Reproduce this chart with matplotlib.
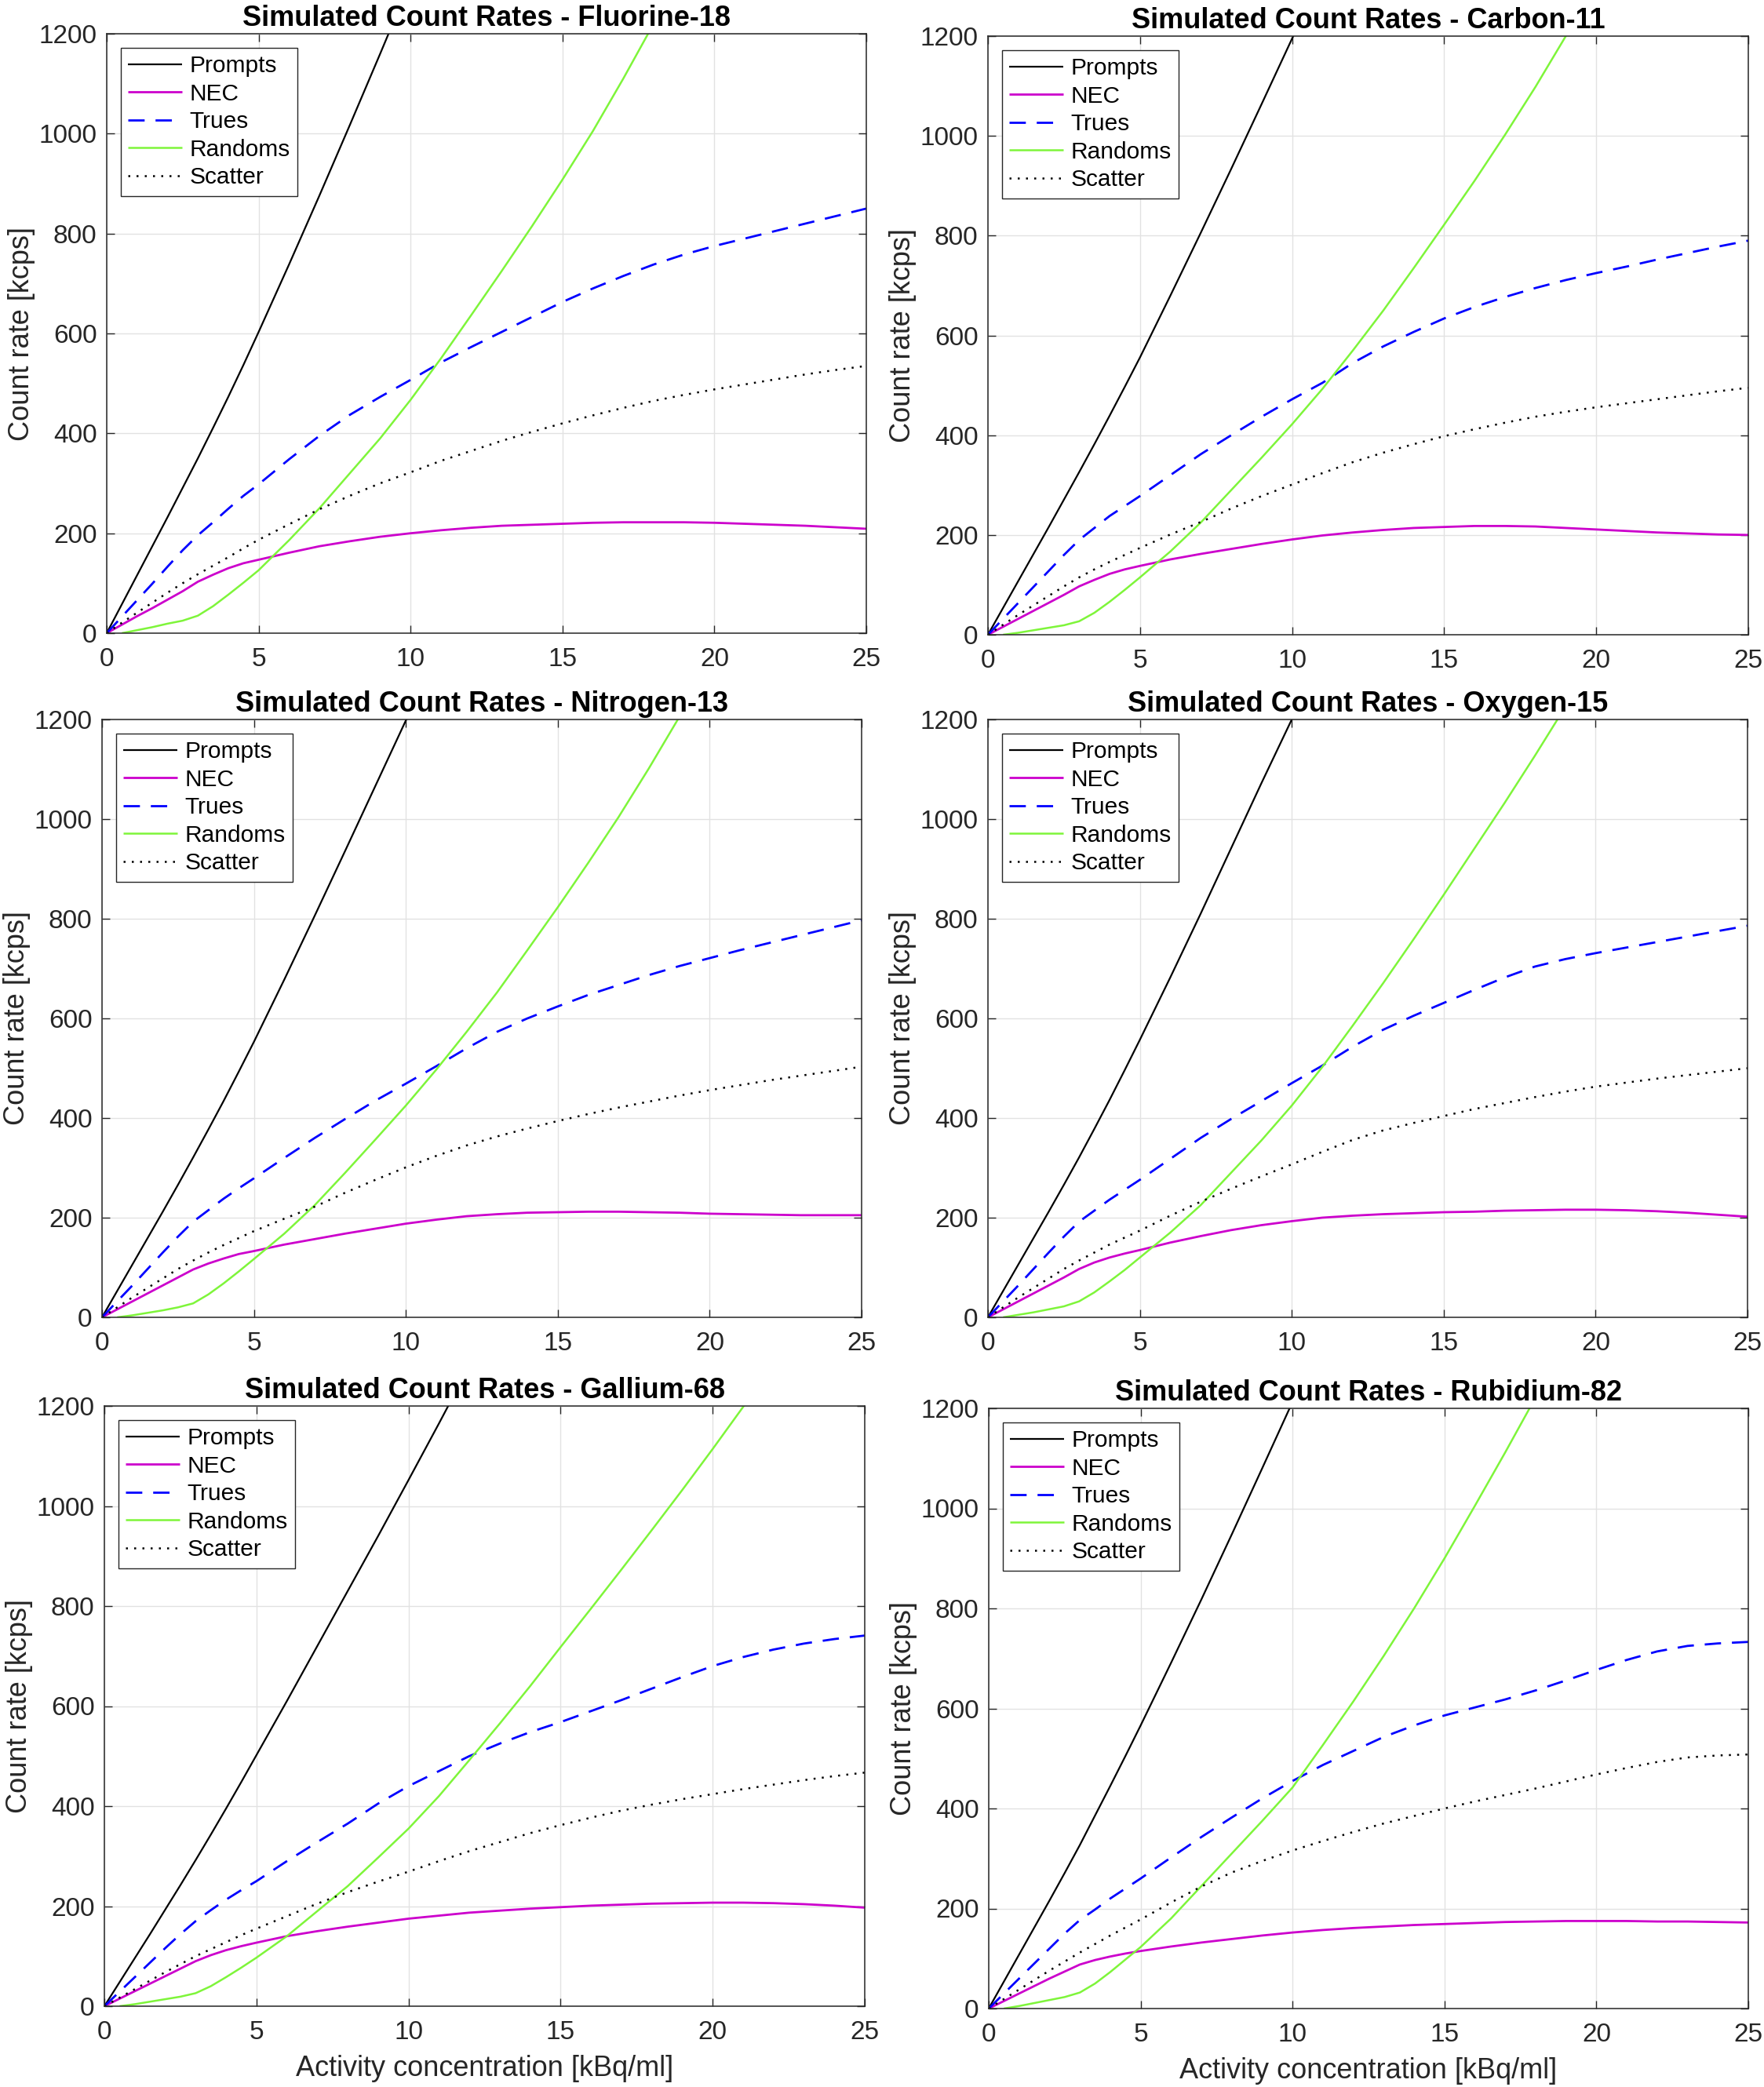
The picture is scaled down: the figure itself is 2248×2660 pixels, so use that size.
import numpy as np
import matplotlib
matplotlib.use("Agg")
import matplotlib.pyplot as plt

plt.rcParams['font.family'] = ['Liberation Sans', 'DejaVu Sans']

nan = np.nan

# Activity concentration [kBq/ml]
x = [0, 0.5, 1, 1.5, 2, 2.5, 3, 3.5, 4, 4.5, 5, 6, 7, 8, 9, 10, 11, 12, 13,
     14, 15, 16, 17, 18, 19, 20, 21, 22, 23, 24, 25]

isotopes = ["Fluorine-18", "Carbon-11", "Nitrogen-13", "Oxygen-15",
            "Gallium-68", "Rubidium-82"]
series_names = ["Prompts", "NEC", "Trues", "Randoms", "Scatter"]

# ---- Fluorine-18 ----
f18_prompts = [0, 58, 116, 174, 232, 291, 350, 411, 473, 537, 603, 738, 876, 1017, 1160, 1305,
               nan, nan, nan, nan, nan, nan, nan, nan, nan, nan, nan, nan, nan, nan, nan]
f18_nec = [0, 17, 34, 50, 67, 84, 103, 117, 130, 140, 147, 161, 174, 184, 193, 200, 206, 211,
           215, 217, 219, 221, 222, 222, 222, 221, 219, 217, 215, 212, 209]
f18_trues = [0, 33, 66, 99, 133, 166, 196, 222, 249, 275, 298, 348, 395, 437, 473, 507, 542,
             573, 603, 633, 663, 690, 715, 738, 758, 775, 790, 805, 820, 835, 850]
f18_randoms = [nan, 0, 6, 12, 19, 25, 35, 54, 77, 101, 126, 186, 250, 320, 390, 467, 550, 637,
               725, 815, 908, 1005, 1110, 1220, nan, nan, nan, nan, nan, nan, nan]
f18_scatter = [0, 21, 41, 61, 81, 100, 118, 135, 152, 170, 187, 218, 248, 275, 300, 322, 345,
               365, 385, 403, 420, 436, 451, 465, 477, 488, 498, 508, 518, 527, 535]

# ---- Carbon-11 ----
c11_prompts = [0, 54, 108, 162, 216, 271, 326, 382, 439, 497, 556, 680, 806, 934, 1064, 1195,
               1327, nan, nan, nan, nan, nan, nan, nan, nan, nan, nan, nan, nan, nan, nan]
c11_nec = [0, 16, 32, 48, 64, 80, 97, 110, 122, 131, 138, 151, 162, 172, 182, 191, 199, 205,
           210, 214, 216, 218, 218, 217, 214, 211, 208, 205, 203, 201, 200]
c11_trues = [0, 32, 64, 96, 128, 160, 190, 214, 238, 258, 278, 320, 362, 400, 437, 472, 505,
             545, 578, 607, 634, 657, 677, 695, 711, 725, 738, 752, 765, 778, 790]
c11_randoms = [nan, 0, 4, 9, 14, 19, 27, 44, 66, 90, 115, 167, 225, 290, 355, 422, 493, 570,
               650, 735, 822, 910, 1002, 1098, 1200, 1305, nan, nan, nan, nan, nan]
c11_scatter = [0, 20, 40, 59, 78, 97, 115, 131, 146, 160, 174, 201, 226, 253, 278, 301, 324,
               346, 365, 382, 398, 412, 425, 437, 447, 456, 464, 472, 480, 488, 495]

# ---- Nitrogen-13 ----
n13_prompts = [0, 53, 106, 159, 212, 266, 321, 377, 434, 493, 553, 678, 806, 936, 1067, 1198,
               1330, nan, nan, nan, nan, nan, nan, nan, nan, nan, nan, nan, nan, nan, nan]
n13_nec = [0, 16, 32, 48, 64, 80, 96, 108, 118, 127, 133, 146, 157, 168, 178, 188, 196, 203,
           207, 210, 211, 212, 212, 211, 210, 208, 207, 206, 205, 205, 205]
n13_trues = [0, 32, 64, 97, 130, 162, 192, 215, 238, 259, 279, 320, 360, 398, 435, 469, 504,
             540, 573, 600, 624, 647, 667, 687, 705, 721, 737, 752, 767, 782, 797]
n13_randoms = [nan, 0, 4, 9, 14, 20, 28, 46, 68, 92, 117, 168, 225, 290, 357, 425, 497, 573,
               652, 737, 823, 912, 1004, 1102, 1205, 1310, nan, nan, nan, nan, nan]
n13_scatter = [0, 20, 40, 59, 78, 97, 114, 130, 145, 159, 173, 198, 222, 250, 276, 301, 324,
               345, 363, 379, 394, 408, 421, 433, 445, 456, 466, 476, 485, 494, 503]

# ---- Oxygen-15 ----
o15_prompts = [0, 53, 106, 159, 212, 266, 321, 378, 436, 496, 557, 682, 810, 941, 1072, 1200,
               1330, nan, nan, nan, nan, nan, nan, nan, nan, nan, nan, nan, nan, nan, nan]
o15_nec = [0, 16, 32, 48, 64, 80, 97, 110, 120, 128, 135, 150, 163, 175, 185, 193, 200, 204,
           207, 209, 211, 212, 214, 215, 216, 216, 215, 213, 210, 206, 202]
o15_trues = [0, 32, 64, 97, 130, 162, 192, 214, 236, 256, 276, 318, 360, 398, 434, 470, 505,
             543, 577, 605, 631, 657, 682, 704, 719, 731, 742, 753, 764, 775, 786]
o15_randoms = [nan, 0, 5, 10, 16, 22, 32, 50, 72, 95, 120, 170, 225, 290, 355, 425, 502, 585,
               670, 758, 848, 940, 1032, 1127, 1225, 1330, nan, nan, nan, nan, nan]
o15_scatter = [0, 20, 40, 59, 78, 97, 114, 130, 146, 160, 174, 204, 232, 258, 283, 307, 332,
               356, 375, 390, 404, 418, 430, 442, 453, 463, 471, 479, 486, 493, 500]

# ---- Gallium-68 ----
ga68_prompts = [0, 48, 96, 144, 193, 242, 292, 343, 395, 448, 502, 610, 720, 830, 940, 1052,
                1165, 1280, nan, nan, nan, nan, nan, nan, nan, nan, nan, nan, nan, nan, nan]
ga68_nec = [0, 15, 30, 45, 60, 75, 90, 102, 112, 120, 127, 140, 150, 159, 167, 175, 181, 187,
            191, 195, 198, 201, 203, 205, 206, 207, 207, 206, 204, 201, 197]
ga68_trues = [0, 29, 58, 87, 116, 144, 170, 192, 213, 232, 250, 290, 328, 365, 405, 440, 470,
              500, 525, 548, 568, 590, 612, 635, 658, 680, 698, 713, 725, 734, 741]
ga68_randoms = [nan, 0, 4, 9, 14, 19, 26, 40, 58, 77, 97, 140, 190, 240, 297, 355, 420, 492,
                565, 640, 718, 795, 873, 952, 1032, 1114, 1198, 1285, nan, nan, nan]
ga68_scatter = [0, 17, 34, 51, 68, 84, 100, 114, 128, 142, 155, 180, 205, 228, 249, 269, 290,
                310, 328, 346, 362, 377, 391, 403, 414, 424, 434, 443, 452, 460, 467]

# ---- Rubidium-82 ----
rb82_prompts = [0, 54, 108, 162, 216, 271, 327, 386, 445, 505, 566, 691, 818, 948, 1080, 1213,
                nan, nan, nan, nan, nan, nan, nan, nan, nan, nan, nan, nan, nan, nan, nan]
rb82_nec = [0, 15, 30, 45, 60, 74, 88, 97, 104, 110, 115, 124, 132, 139, 146, 152, 157, 161,
            164, 167, 169, 171, 173, 174, 175, 175, 175, 174, 174, 173, 172]
rb82_trues = [0, 30, 60, 90, 120, 150, 177, 198, 220, 240, 260, 302, 343, 382, 420, 455, 487,
              515, 543, 566, 586, 602, 618, 636, 656, 677, 697, 714, 725, 730, 733]
rb82_randoms = [nan, 0, 5, 11, 17, 23, 32, 50, 73, 98, 123, 180, 245, 310, 375, 442, 527, 614,
                705, 800, 900, 1005, 1112, 1222, 1340, nan, nan, nan, nan, nan, nan]
rb82_scatter = [0, 19, 38, 57, 76, 94, 112, 129, 146, 162, 178, 212, 244, 272, 295, 316, 335,
                353, 370, 385, 400, 414, 427, 440, 454, 468, 481, 493, 502, 506, 508]

data = {
    "Fluorine-18": [f18_prompts, f18_nec, f18_trues, f18_randoms, f18_scatter],
    "Carbon-11": [c11_prompts, c11_nec, c11_trues, c11_randoms, c11_scatter],
    "Nitrogen-13": [n13_prompts, n13_nec, n13_trues, n13_randoms, n13_scatter],
    "Oxygen-15": [o15_prompts, o15_nec, o15_trues, o15_randoms, o15_scatter],
    "Gallium-68": [ga68_prompts, ga68_nec, ga68_trues, ga68_randoms, ga68_scatter],
    "Rubidium-82": [rb82_prompts, rb82_nec, rb82_trues, rb82_randoms, rb82_scatter],
}

xticks = [0, 5, 10, 15, 20, 25]
yticks = [0, 200, 400, 600, 800, 1000, 1200]

# styles
styles = [
    dict(color="black", lw=1.6, ls="-"),
    dict(color="#cc00cc", lw=2.0, ls="-"),
    dict(color="#0000ff", lw=2.0, ls=(0, (7.5, 5.0))),
    dict(color="#7ef53a", lw=1.8, ls="-"),
    dict(color="black", lw=1.8, ls=(0, (1, 3.2))),
]

W, H = 2248, 2660
boxes = [
    (136, 43, 1104, 807),
    (1259, 46, 2228, 809),
    (130, 917, 1098, 1679),
    (1259, 917, 2227, 1679),
    (133, 1792, 1102, 2557),
    (1260, 1795, 2228, 2560),
]

fig = plt.figure(figsize=(W / 100, H / 100), dpi=100)
axcol = "#262626"

for i, iso in enumerate(isotopes):
    l, t, r, b = boxes[i]
    ax = fig.add_axes([l / W, 1 - b / H, (r - l) / W, (b - t) / H])
    for name, vals, st in zip(series_names, data[iso], styles):
        ax.plot(x, vals, color=st["color"], lw=st["lw"], ls=st["ls"], label=name,
                dash_capstyle="butt", solid_capstyle="butt", solid_joinstyle="round")
    ax.set_xlim(0, 25)
    ax.set_ylim(0, 1200)
    ax.set_xticks(xticks)
    ax.set_yticks(yticks)
    ax.grid(True, color="#e2e2e2", lw=1.0)
    ax.set_axisbelow(True)
    for sp in ax.spines.values():
        sp.set_color(axcol)
        sp.set_linewidth(1.1)
    ax.tick_params(direction="in", length=7, width=1.0, color=axcol, top=True, right=True,
                   labelsize=24, labelcolor=axcol)
    ax.tick_params(axis="x", pad=13)
    ax.tick_params(axis="y", pad=9)
    ax.set_title(f"Simulated Count Rates - {iso}", fontsize=26, fontweight="bold", pad=7)
    ax.set_ylabel("Count rate [kcps]", fontsize=26, color=axcol, labelpad=3)
    if i >= 4:
        ax.set_xlabel("Activity concentration [kBq/ml]", fontsize=26, color=axcol, labelpad=9)
    leg = ax.legend(loc="upper left", fontsize=21.5, frameon=True, fancybox=False,
                    framealpha=1, edgecolor=axcol, handlelength=2.3, handletextpad=0.3,
                    labelspacing=0.25, borderpad=0.32, borderaxespad=0.6)
    leg.get_frame().set_linewidth(1.0)

fig.savefig("out.png", dpi=100)
